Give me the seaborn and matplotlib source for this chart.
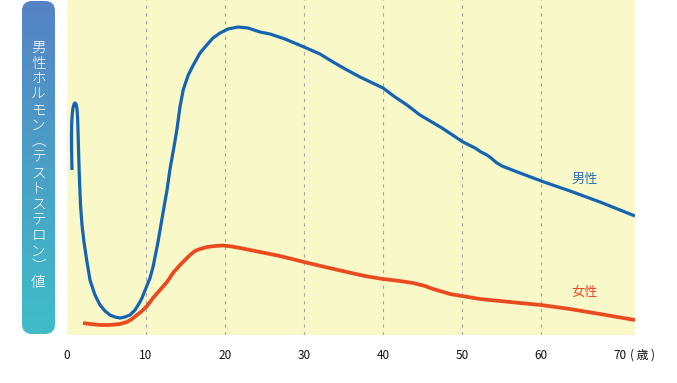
import numpy as np
import pandas as pd
import matplotlib
matplotlib.use("Agg")
import matplotlib.pyplot as plt
import seaborn as sns
from matplotlib.patches import FancyBboxPatch
import matplotlib.transforms as mtransforms

# ---- data (age in years, relative hormone level) ----
male_age = [0.63, 0.58, 0.57, 0.60, 0.68, 0.76, 0.89, 1.01, 1.14, 1.25, 1.34, 1.41, 1.48,
            1.58, 1.71, 1.90, 2.15, 2.53,
            2.91, 3.54, 4.18, 4.81, 5.44, 6.08, 6.71, 7.34, 7.97, 8.61, 9.24, 9.49, 10.0,
            10.51, 10.89, 11.52, 12.15, 12.66, 13.04, 13.54, 13.92, 14.30, 14.71, 15.0,
            15.35, 15.99, 16.84, 17.69, 18.48, 19.37, 20.38, 21.65, 22.91, 24.43, 25.70,
            27.59, 30.0, 32.03, 33.67, 35.44, 37.09, 40.0, 41.52, 43.04, 44.68, 47.47,
            50.13, 51.65, 52.41, 53.16, 53.67, 54.43, 55.06, 57.34, 60.38, 63.67, 67.47, 71.9]
male_val = [165, 185, 200, 213, 222, 227, 231, 232, 231, 227, 218, 200, 180,
            155, 130, 110, 93, 73,
            55, 40, 30, 24, 20, 18, 17, 18, 20, 25, 33, 37, 47,
            57, 68, 93, 122, 145, 166, 188, 206, 228, 245, 252,
            260, 270, 282, 290, 297, 302, 306, 308, 307, 303, 301,
            296, 288, 281, 273, 265, 258, 247, 238, 230, 220, 207,
            193, 187, 183, 180, 177, 172, 169, 162, 153, 144, 133, 119]
female_age = [2.03, 2.91, 4.18, 5.44, 6.71, 7.59, 8.23, 8.86, 9.49, 10.13, 10.89, 11.77,
              12.66, 13.42, 14.30, 14.94, 15.57, 16.20, 16.84, 17.72, 18.73, 19.75, 20.89,
              21.90, 24.43, 26.96, 30.0, 32.66, 35.44, 37.72, 40.0, 42.15, 43.80, 45.32,
              46.33, 47.22, 48.48, 50.0, 52.28, 54.81, 57.34, 60.0, 63.67, 67.47, 71.9]
female_val = [12, 11, 10, 10, 11, 13, 16, 20, 24, 29, 37, 45,
              53, 62, 70, 75, 80, 84, 86, 88, 89, 89.5, 88.5,
              87, 83, 79, 73, 68, 63, 59, 56, 54, 52, 49,
              46, 44, 41, 39, 36, 34, 32, 30, 26, 21, 15]
xticks = [0, 10, 20, 30, 40, 50, 60, 70]
ylabel_text = "男性ホルモン︵テストステロン︶値"
male_label = "男性"
female_label = "女性"
unit_label = "( 歳 )"

sns.set_theme(style="white")
plt.rcParams['font.family'] = ['Noto Sans CJK JP', 'DejaVu Sans']

male_c = "#1464b2"
female_c = "#e94a1f"
bg_c = "#f8f8c8"

fig = plt.figure(figsize=(6.77, 3.83), dpi=100)
ax = fig.add_axes([67/677, 1-335/383, (635-67)/677, 335/383])
ax.set_facecolor(bg_c)

df_m = pd.DataFrame({"age": male_age, "val": male_val})
df_f = pd.DataFrame({"age": female_age, "val": female_val})
sns.lineplot(data=df_f, x="age", y="val", ax=ax, color=female_c, lw=2.7,
             sort=False, estimator=None, solid_capstyle="butt", solid_joinstyle="round")
sns.lineplot(data=df_m, x="age", y="val", ax=ax, color=male_c, lw=2.3,
             sort=False, estimator=None, solid_capstyle="butt", solid_joinstyle="round")

ax.set_xlim(0, 71.9)
ax.set_ylim(0, 335)
for x in xticks[1:-1]:
    ax.axvline(x, color="#a8a8a0", lw=0.8, ls=(0, (3, 4)), zorder=0)
for s in ax.spines.values():
    s.set_visible(False)
ax.set_yticks([])
ax.set_xticks(xticks)
ax.set_xticklabels([str(t) for t in xticks], fontsize=8.5, color="#111111")
ax.tick_params(axis="x", length=0, pad=10)
ax.set_xlabel("")
ax.set_ylabel("")

trans = mtransforms.blended_transform_factory(ax.transData, fig.transFigure)
ax.text(71.3, 1-355/383, unit_label, transform=trans, ha="left", va="center",
        fontsize=8.5, color="#111111")

ax.text(65.5, 335-179, male_label, color="#2f6fb3", fontsize=9.5, ha="center", va="center")
ax.text(65.5, 335-292, female_label, color="#e8472a", fontsize=9.5, ha="center", va="center")

# ---- left gradient label bar ----
bax = fig.add_axes([0, 0, 1, 1], zorder=-1)
bax.set_xlim(0, 677)
bax.set_ylim(383, 0)
bax.axis("off")
grad = np.linspace(0, 1, 256).reshape(-1, 1)
top = np.array([0x56, 0x83, 0xc5]) / 255
bot = np.array([0x3f, 0xbd, 0xc8]) / 255
img = top[None, None, :] * (1 - grad[:, :, None]) + bot[None, None, :] * grad[:, :, None]
im = bax.imshow(img, extent=[22, 55, 334, 1], aspect="auto", zorder=1)
patch = FancyBboxPatch((22 + 10, 1 + 10), 33 - 20, 333 - 20,
                       boxstyle="round,pad=10", transform=bax.transData,
                       facecolor="none", edgecolor="none")
bax.add_patch(patch)
im.set_clip_path(patch)

chars = list(ylabel_text)
y0, y1 = 48, 283
step = (y1 - y0) / (len(chars) - 1)
for i, ch in enumerate(chars):
    bax.text(38.5, y0 + i * step, ch, color="white", fontsize=10.5, fontweight="light",
             ha="center", va="center", zorder=2)

fig.savefig("out.png", dpi=100)
